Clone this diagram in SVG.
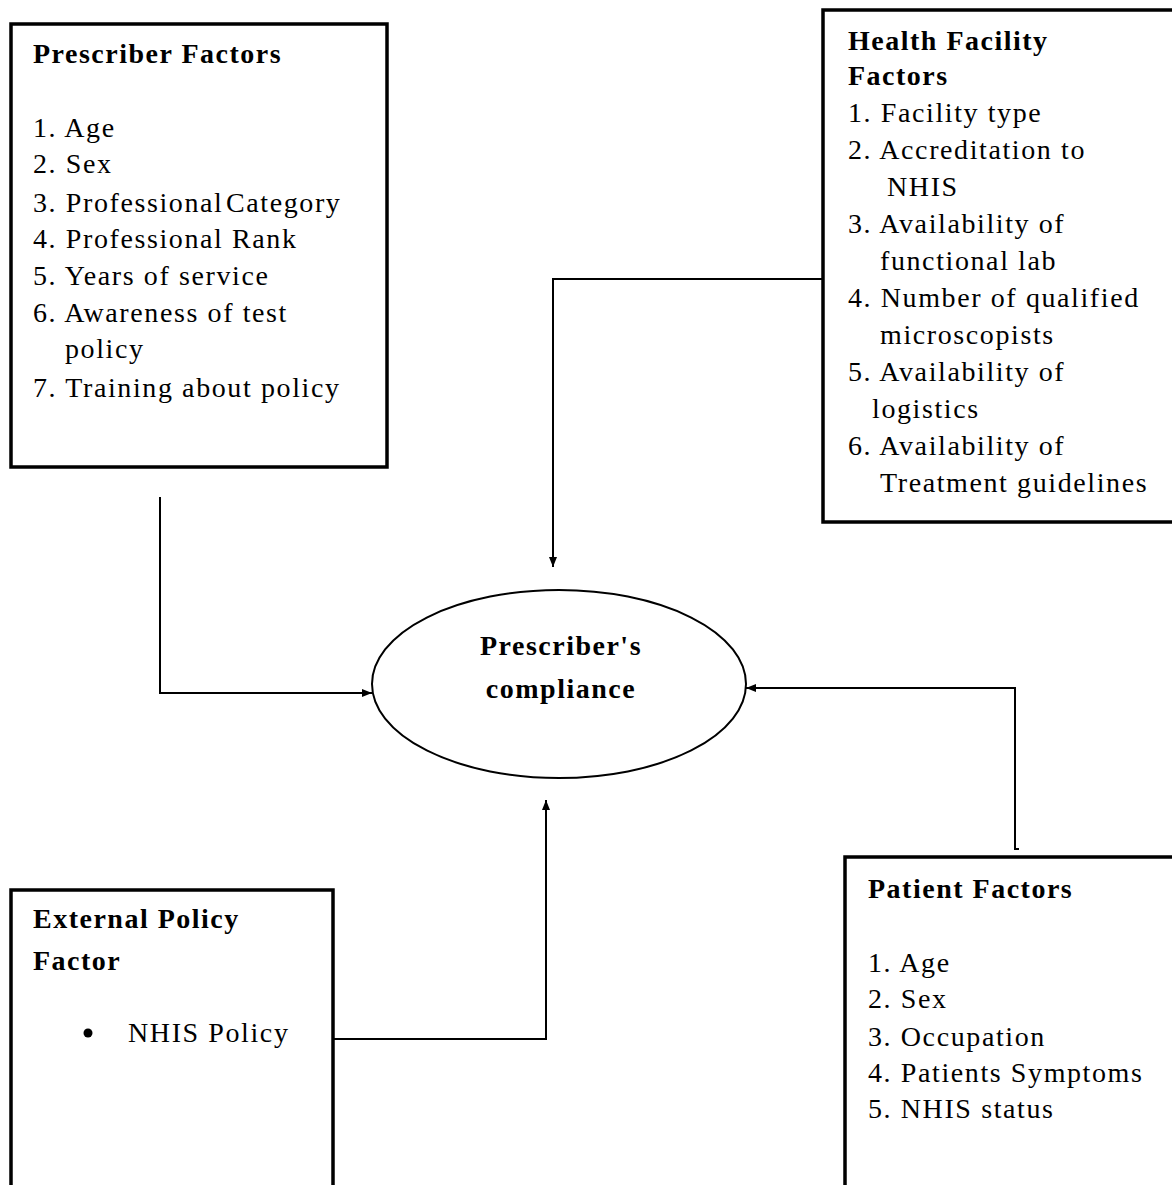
<svg xmlns="http://www.w3.org/2000/svg" width="1172" height="1185" viewBox="0 0 1172 1185">
<defs>
<style>
.box{fill:#fff;stroke:#000;stroke-width:3.5}
.t{font-family:"Liberation Serif","Times New Roman",serif;font-size:28px;letter-spacing:1.6px;fill:#000}
.b{font-weight:bold;letter-spacing:1.5px}
.conn{fill:none;stroke:#000;stroke-width:2}
</style>
<marker id="ah" markerUnits="userSpaceOnUse" markerWidth="10" markerHeight="8" refX="10" refY="4" orient="auto">
<path d="M0,0 L10,4 L0,8 z" fill="#000"/>
</marker>
</defs>
<rect width="1172" height="1185" fill="#fff"/>
<g id="connectors">
<path class="conn" d="M160,497 V693 H372" marker-end="url(#ah)"/>
<path class="conn" d="M823,279 H553 V567" marker-end="url(#ah)"/>
<path class="conn" d="M333,1039 H546 V800" marker-end="url(#ah)"/>
<path class="conn" d="M1019,849 H1015 V688 H746" marker-end="url(#ah)"/>
</g>
<g id="prescriber-factors">
<rect class="box" x="11" y="24" width="376" height="443"/>
<text class="t b" x="33" y="63">Prescriber Factors</text>
<text class="t" x="33" y="137">1. Age</text>
<text class="t" x="33" y="173">2. Sex</text>
<text class="t" x="33" y="212">3. <tspan word-spacing="-6">Professional Category</tspan></text>
<text class="t" x="33" y="248">4. Professional Rank</text>
<text class="t" x="33" y="285">5. Years of service</text>
<text class="t" x="33" y="322">6. Awareness of test</text>
<text class="t" x="65" y="358">policy</text>
<text class="t" x="33" y="397">7. Training about policy</text>
</g>
<g id="health-facility-factors">
<rect class="box" x="823" y="10" width="360" height="512"/>
<text class="t b" x="848" y="50">Health Facility</text>
<text class="t b" x="848" y="85">Factors</text>
<text class="t" x="848" y="122">1. Facility type</text>
<text class="t" x="848" y="159">2. Accreditation to</text>
<text class="t" x="887" y="196">NHIS</text>
<text class="t" x="848" y="233">3. Availability of</text>
<text class="t" x="880" y="270">functional lab</text>
<text class="t" x="848" y="307">4. Number of qualified</text>
<text class="t" x="880" y="344">microscopists</text>
<text class="t" x="848" y="381">5. Availability of</text>
<text class="t" x="872" y="418">logistics</text>
<text class="t" x="848" y="455">6. Availability of</text>
<text class="t" x="880" y="492">Treatment guidelines</text>
</g>
<g id="prescribers-compliance">
<ellipse cx="559" cy="684" rx="187" ry="94" fill="#fff" stroke="#000" stroke-width="2"/>
<text class="t b" x="561" y="655" text-anchor="middle">Prescriber's</text>
<text class="t b" x="561" y="698" text-anchor="middle">compliance</text>
</g>
<g id="external-policy-factor">
<rect class="box" x="11" y="890" width="322" height="400"/>
<text class="t b" x="33" y="928">External Policy</text>
<text class="t b" x="33" y="970">Factor</text>
<circle cx="88" cy="1033" r="4.5" fill="#000"/>
<text class="t" x="128" y="1042">NHIS Policy</text>
</g>
<g id="patient-factors">
<rect class="box" x="845" y="857" width="340" height="400"/>
<text class="t b" x="868" y="898">Patient Factors</text>
<text class="t" x="868" y="972">1. Age</text>
<text class="t" x="868" y="1008">2. Sex</text>
<text class="t" x="868" y="1046">3. Occupation</text>
<text class="t" x="868" y="1082">4. Patients Symptoms</text>
<text class="t" x="868" y="1118">5. NHIS status</text>
</g>
</svg>
